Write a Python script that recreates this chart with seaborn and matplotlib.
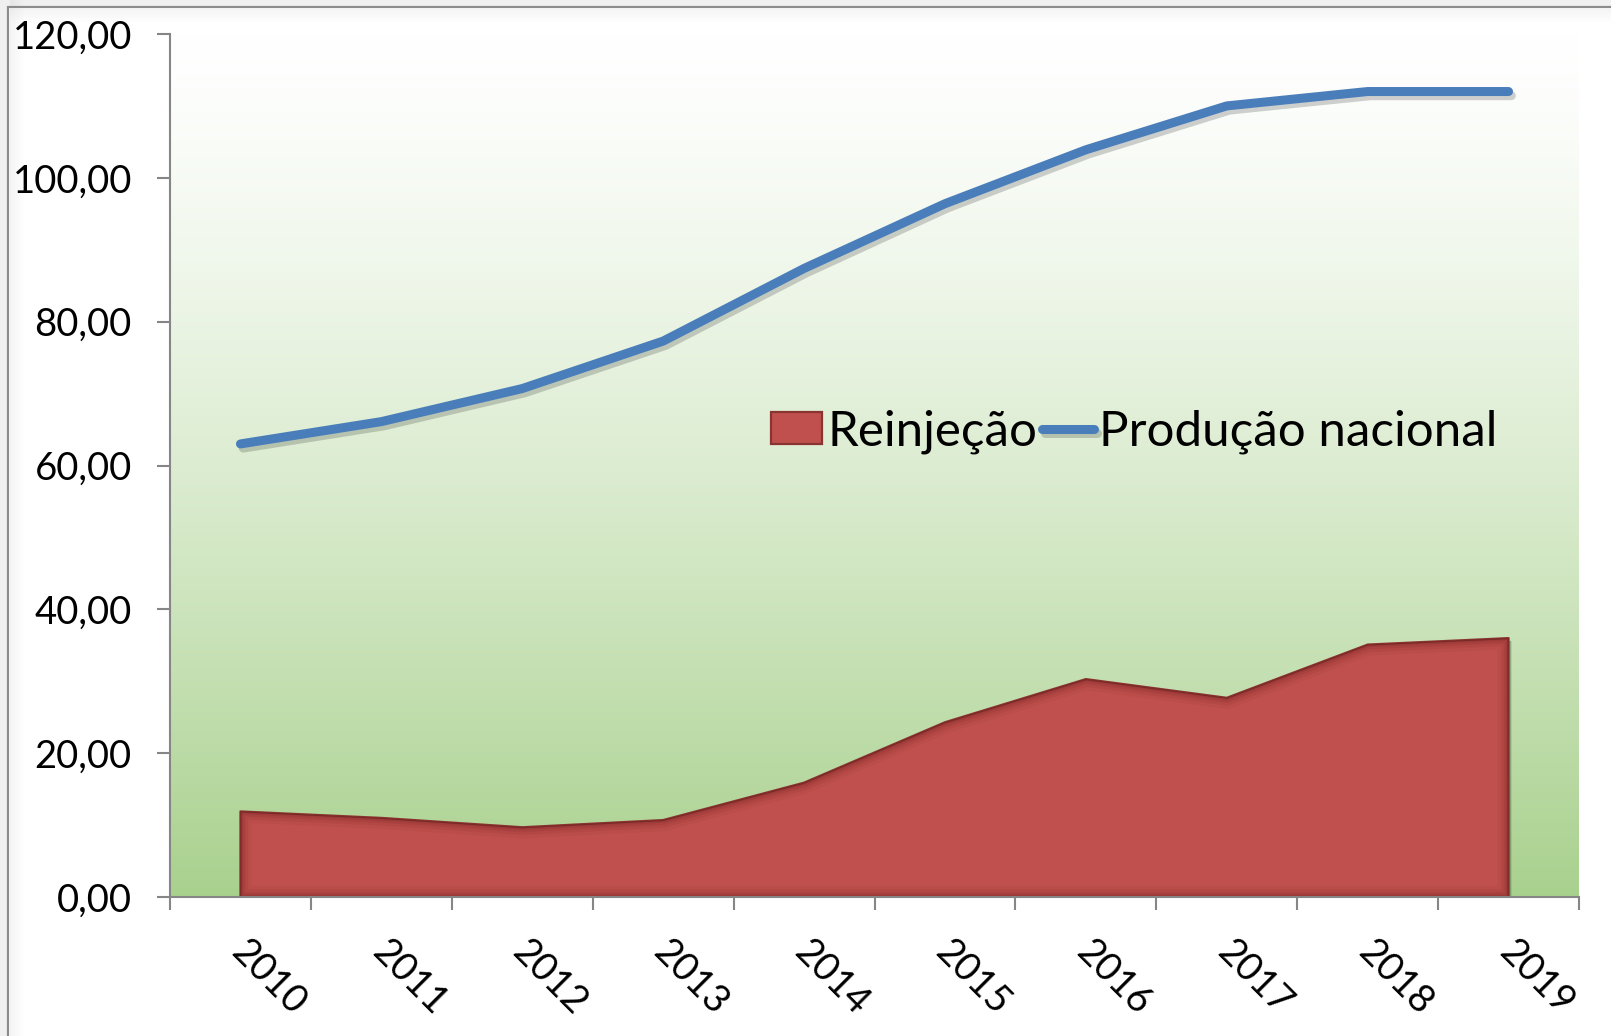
import numpy as np
import pandas as pd
import matplotlib
matplotlib.use("Agg")
import matplotlib.pyplot as plt
import matplotlib.patheffects as pe
import matplotlib.transforms as mtransforms
from matplotlib.patches import Rectangle, PathPatch
from matplotlib.ticker import FixedLocator, FuncFormatter
import seaborn as sns

# --- DATA ---
years = ['2010', '2011', '2012', '2013', '2014', '2015', '2016', '2017', '2018', '2019']
producao_nacional = [63.0, 66.1, 70.7, 77.3, 87.4, 96.4, 103.9, 110.0, 112.0, 112.0]
reinjecao = [11.9, 11.0, 9.7, 10.7, 15.9, 24.3, 30.3, 27.7, 35.1, 36.0]
y_ticks = [0, 20, 40, 60, 80, 100, 120]

df = pd.DataFrame({'pos': np.arange(len(years)), 'ano': years,
                   'Produção nacional': producao_nacional, 'Reinjeção': reinjecao})

sns.set_theme(style="white")
plt.rcParams['font.family'] = ['Lato', 'DejaVu Sans']
plt.rcParams['text.color'] = 'black'

W, H = 1611, 1036
fig = plt.figure(figsize=(W / 100, H / 100), dpi=100)
fig.patch.set_facecolor('#f0f0f0')

# chart frame (gray border on top/left, white inside, soft shadow)
fig.patches.append(Rectangle((8 / W, -0.1), 1.2, 1 - 7 / H + 0.1, transform=fig.transFigure,
                             facecolor='white', edgecolor='#8c8c8c', linewidth=1.6, zorder=-3))
for i in range(14):
    a = 0.10 * (1 - i / 14)
    fig.patches.append(Rectangle(((10 + i) / W, -0.1), 1 / W, 1.2, transform=fig.transFigure,
                                 facecolor='#9a9a9a', alpha=a, edgecolor='none', zorder=-2))
    fig.patches.append(Rectangle((10 / W, 1 - (10 + i) / H), 1.2, 1 / H, transform=fig.transFigure,
                                 facecolor='#9a9a9a', alpha=a, edgecolor='none', zorder=-2))

ax = fig.add_axes([170 / W, 1 - 897 / H, (1579 - 170) / W, (897 - 34) / H])
ax.set_zorder(1)
ax.patch.set_alpha(0)

# gradient plot area: white at the top to green at the bottom
t = np.linspace(0, 1, 256) ** 1.3
top = np.array([1.0, 1.0, 1.0])
bottom = np.array([169, 209, 142]) / 255
grad = (top[None, :] * (1 - t[:, None]) + bottom[None, :] * t[:, None])[:, None, :]
ax.imshow(grad, extent=(-0.5, len(years) - 0.5, 0, 120), aspect='auto',
          origin='upper', zorder=0, interpolation='bicubic')

# Reinjeção area
area = ax.fill_between(df['pos'], 0, df['Reinjeção'], facecolor='#c0504d',
                       edgecolor='#8a3431', linewidth=1.6, zorder=2, label='Reinjeção')
area.set_path_effects([pe.SimplePatchShadow(offset=(2, -2), shadow_rgbFace='black', alpha=0.25),
                       pe.Normal()])
# soft inner glow along the edge of the area
clip = PathPatch(area.get_paths()[0], transform=ax.transData, facecolor='none', edgecolor='none')
ax.add_patch(clip)
for lw, a in [(16, 0.06), (11, 0.08), (7, 0.10), (4, 0.12)]:
    glow = PathPatch(area.get_paths()[0], transform=ax.transData, facecolor='none',
                     edgecolor='#5a1514', linewidth=lw, alpha=a, zorder=2.1)
    ax.add_patch(glow)
    glow.set_clip_path(clip)

# Produção nacional line
sns.lineplot(data=df, x='pos', y='Produção nacional', ax=ax, color='#4a7ebb',
             linewidth=6.5, zorder=3, label='Produção nacional',
             solid_capstyle='round', solid_joinstyle='round')
line = ax.lines[-1]
line.set_path_effects([pe.SimpleLineShadow(offset=(2, -3), shadow_color='black', alpha=0.18),
                       pe.Normal()])

ax.set_xlim(-0.5, len(years) - 0.5)
ax.set_ylim(0, 120)
ax.set_xlabel('')
ax.set_ylabel('')

for s in ['top', 'right']:
    ax.spines[s].set_visible(False)
for s in ['left', 'bottom']:
    ax.spines[s].set_color('#868686')
    ax.spines[s].set_linewidth(1.5)
    ax.spines[s].set_zorder(4)

ax.set_yticks(y_ticks)
ax.yaxis.set_major_formatter(FuncFormatter(lambda v, p: f"{v:.2f}".replace('.', ',')))
ax.tick_params(axis='y', direction='out', length=9.5, width=1.5, color='#868686',
               pad=18, labelsize=27.5, labelcolor='black', left=True)

ax.set_xticks(df['pos'])
ax.set_xticklabels(df['ano'])
ax.xaxis.set_minor_locator(FixedLocator(np.arange(-0.5, len(years), 1.0)))
ax.tick_params(axis='x', which='major', length=0, pad=26, labelsize=27.5, labelcolor='black')
ax.tick_params(axis='x', which='minor', direction='out', length=9, width=1.5,
               color='#868686', bottom=True)
offset = mtransforms.ScaledTranslation(0.09, 0, fig.dpi_scale_trans)
for lab in ax.get_xticklabels():
    lab.set_rotation(-45)
    lab.set_rotation_mode('anchor')
    lab.set_ha('left')
    lab.set_va('top')
    lab.set_transform(lab.get_transform() + offset)

if ax.get_legend():
    ax.get_legend().remove()
leg = fig.legend(handles=[area, line], labels=['Reinjeção', 'Produção nacional'],
                 loc='center', bbox_to_anchor=(1134 / W, 1 - 432 / H), ncol=2, frameon=False,
                 fontsize=35.5, handlelength=1.05, handleheight=0.62, handletextpad=0.1,
                 columnspacing=0.1, borderpad=0)
leg.set_zorder(5)
for txt in leg.get_texts():
    txt.set_color('black')

fig.savefig('out.png', dpi=100, facecolor=fig.get_facecolor())
